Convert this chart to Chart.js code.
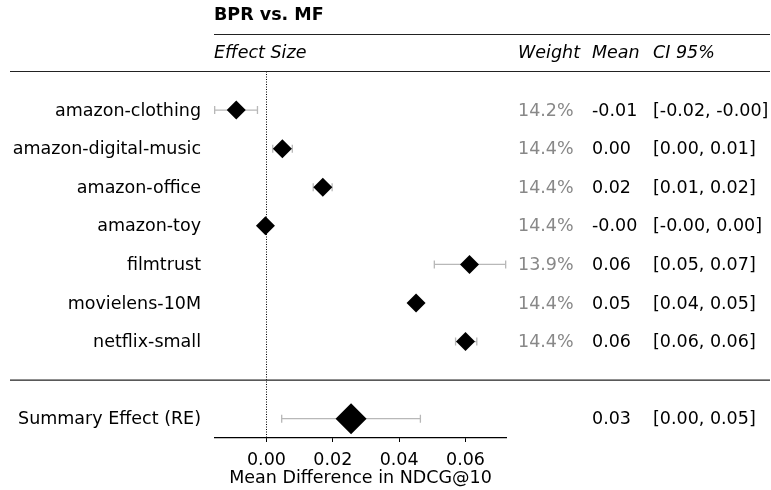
<!DOCTYPE html>
<html>
<head>
<meta charset="utf-8">
<script src="https://cdn.jsdelivr.net/npm/chart.js@4.4.0/dist/chart.umd.min.js"></script>
<style>
  html, body { margin: 0; padding: 0; background: #fff; }
  #wrap { width: 771px; height: 490px; position: relative; }
</style>
</head>
<body>
<div id="wrap"><canvas id="forest"></canvas></div>
<script>
// forest plot: BPR vs. MF
const studies = ["amazon-clothing", "amazon-digital-music", "amazon-office", "amazon-toy",
  "filmtrust", "movielens-10M", "netflix-small"];
const means = [-0.0091, 0.0048, 0.0170, -0.0003, 0.0612, 0.0451, 0.0600];
const ciLow = [-0.0156, 0.0019, 0.0141, -0.0012, 0.0506, 0.0441, 0.0570];
const ciHigh = [-0.0027, 0.0078, 0.0198, 0.0006, 0.0721, 0.0461, 0.0634];
const weights = ["14.2%", "14.4%", "14.4%", "14.4%", "13.9%", "14.4%", "14.4%"];
const meanLabels = ["-0.01", "0.00", "0.02", "-0.00", "0.06", "0.05", "0.06"];
const ciLabels = ["[-0.02, -0.00]", "[0.00, 0.01]", "[0.01, 0.02]", "[-0.00, 0.00]",
  "[0.05, 0.07]", "[0.04, 0.05]", "[0.06, 0.06]"];

const summaryLabel = "Summary Effect (RE)";
const summaryMean = 0.0255;
const summaryLow = 0.0046;
const summaryHigh = 0.0464;
const summaryMeanLabel = "0.03";
const summaryCiLabel = "[0.00, 0.05]";

const xTicks = [0, 0.02, 0.04, 0.06];
const summaryRow = 8;

const FONT = "DejaVu Sans";
const FS = 17.5;

const studyPoints = studies.map((s, i) => ({ x: means[i], y: i }));

const forestPlugin = {
  id: "forestExtras",
  beforeDatasetsDraw(chart) {
    const { ctx, scales: { x, y }, chartArea } = chart;
    ctx.save();
    // dotted zero line
    ctx.strokeStyle = "#000";
    ctx.lineWidth = 1;
    ctx.setLineDash([1, 1.5]);
    const x0 = Math.round(x.getPixelForValue(0)) + 0.5;
    ctx.beginPath();
    ctx.moveTo(x0, chartArea.top);
    ctx.lineTo(x0, chartArea.bottom);
    ctx.stroke();
    ctx.setLineDash([]);

    // error bars
    ctx.strokeStyle = "#b8b8b8";
    ctx.lineWidth = 1.3;
    const bar = (lo, hi, row) => {
      const py = y.getPixelForValue(row);
      const a = x.getPixelForValue(lo), b = x.getPixelForValue(hi);
      ctx.beginPath();
      ctx.moveTo(a, py); ctx.lineTo(b, py);
      ctx.moveTo(a, py - 4); ctx.lineTo(a, py + 4);
      ctx.moveTo(b, py - 4); ctx.lineTo(b, py + 4);
      ctx.stroke();
    };
    studies.forEach((s, i) => bar(ciLow[i], ciHigh[i], i));
    bar(summaryLow, summaryHigh, summaryRow);
    ctx.restore();
  },
  afterDraw(chart) {
    const { ctx, scales: { y }, chartArea } = chart;
    ctx.save();
    // rules
    ctx.strokeStyle = "#222";
    ctx.lineWidth = 1.2;
    const rule = (x1, x2, py) => {
      ctx.beginPath(); ctx.moveTo(x1, py); ctx.lineTo(x2, py); ctx.stroke();
    };
    rule(chartArea.left - 1, 770, 34.5);
    rule(10, 770, y.getPixelForValue(-1));
    rule(10, 770, y.getPixelForValue(7));

    ctx.textBaseline = "middle";
    ctx.fillStyle = "#000";
    ctx.font = "bold " + FS + "px " + FONT;
    ctx.textAlign = "left";
    ctx.fillText("BPR vs. MF", chartArea.left - 1, 15.5);

    ctx.font = "italic " + FS + "px " + FONT;
    ctx.fillText("Effect Size", chartArea.left - 1, 53);
    ctx.fillText("Weight", 518, 53);
    ctx.fillText("Mean", 592, 53);
    ctx.fillText("CI 95%", 653, 53);

    ctx.font = FS + "px " + FONT;
    const dy = 1;
    studies.forEach((s, i) => {
      const py = y.getPixelForValue(i) + dy;
      ctx.textAlign = "right";
      ctx.fillStyle = "#000";
      ctx.fillText(s, 201, py);
      ctx.textAlign = "left";
      ctx.fillStyle = "#888";
      ctx.fillText(weights[i], 518, py);
      ctx.fillStyle = "#000";
      ctx.fillText(meanLabels[i], 592, py);
      ctx.fillText(ciLabels[i], 653, py);
    });
    const sy = y.getPixelForValue(summaryRow) + dy;
    ctx.textAlign = "right";
    ctx.fillText(summaryLabel, 201, sy);
    ctx.textAlign = "left";
    ctx.fillText(summaryMeanLabel, 592, sy);
    ctx.fillText(summaryCiLabel, 653, sy);
    ctx.restore();
  }
};

new Chart(document.getElementById("forest"), {
  type: "scatter",
  data: {
    datasets: [
      {
        data: studyPoints,
        pointStyle: "rectRot",
        pointRadius: 9.5,
        pointHoverRadius: 9.5,
        backgroundColor: "#000",
        borderColor: "#000",
        borderWidth: 0
      },
      {
        data: [{ x: summaryMean, y: summaryRow }],
        pointStyle: "rectRot",
        pointRadius: 15.5,
        pointHoverRadius: 15.5,
        backgroundColor: "#000",
        borderColor: "#000",
        borderWidth: 0
      }
    ]
  },
  plugins: [forestPlugin],
  options: {
    responsive: true,
    maintainAspectRatio: false,
    animation: false,
    events: [],
    layout: { padding: { left: 215, right: 265, top: 71.5, bottom: 0 } },
    plugins: { legend: { display: false }, tooltip: { enabled: false } },
    scales: {
      x: {
        type: "linear",
        min: -0.0155,
        max: 0.0722,
        afterBuildTicks: (scale) => { scale.ticks = xTicks.map(v => ({ value: v })); },
        afterFit: (scale) => { scale.height = 52; },
        grid: { display: true, drawOnChartArea: false, drawTicks: true, tickLength: 4, tickWidth: 1, tickColor: "#000" },
        border: { display: true, color: "#000", width: 1.2 },
        ticks: {
          color: "#000",
          font: { family: FONT, size: FS, lineHeight: 1 },
          padding: 10,
          maxRotation: 0,
          callback: (v) => v.toFixed(2)
        },
        title: {
          display: true,
          text: "Mean Difference in NDCG@10",
          color: "#000",
          font: { family: FONT, size: FS, lineHeight: 1 },
          padding: { top: 0, bottom: 2.5 }
        }
      },
      y: {
        type: "linear",
        display: false,
        reverse: true,
        min: -1,
        max: 8.5
      }
    }
  }
});
</script>
</body>
</html>
